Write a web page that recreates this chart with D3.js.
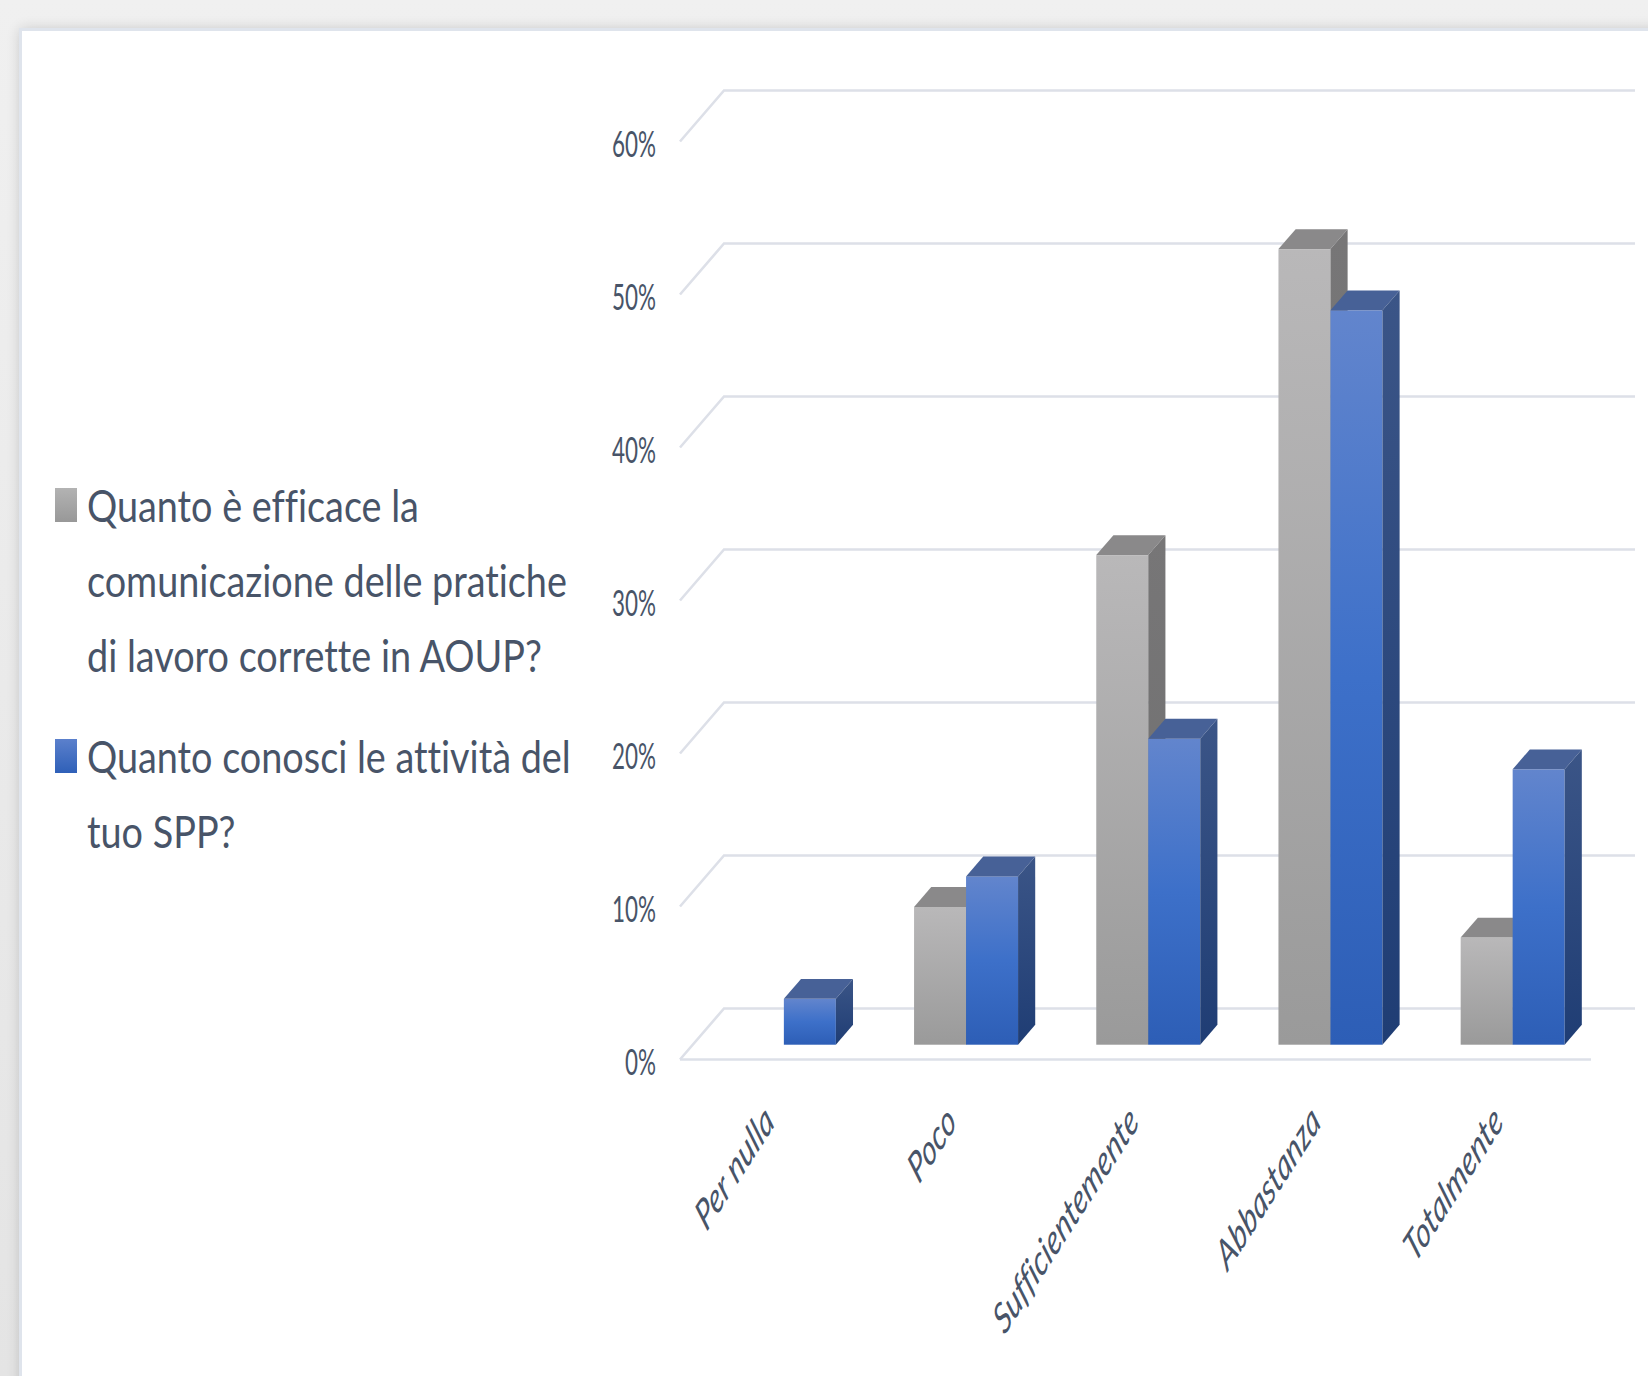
<!DOCTYPE html>
<html><head><meta charset="utf-8">
<script src="https://cdn.jsdelivr.net/npm/d3@7"></script>
<style>html,body{margin:0;padding:0;background:#ececec;overflow:hidden}svg{display:block}text{font-variant-ligatures:none;font-feature-settings:"liga" 0,"clig" 0}</style>
</head><body>
<svg id="chart" width="1648" height="1376"></svg>
<script>
// ---------- data ----------
const categories = ["Per nulla", "Poco", "Sufficientemente", "Abbastanza", "Totalmente"];
const seriesKeys = ["efficacia", "conoscenza"];
const seriesEfficacia = [0, 0.09, 0.32, 0.52, 0.07];   // Quanto è efficace la comunicazione ...
const seriesConoscenza = [0.03, 0.11, 0.20, 0.48, 0.18]; // Quanto conosci le attività del tuo SPP?
const legendEfficacia = ["Quanto è efficace la", "comunicazione delle pratiche", "di lavoro corrette in AOUP?"];
const legendConoscenza = ["Quanto conosci le attività del", "tuo SPP?"];
const tickValues = [0, 0.1, 0.2, 0.3, 0.4, 0.5, 0.6];

// ---------- layout ----------
const svg = d3.select("#chart");
const defs = svg.append("defs");
const textColor = "#485468";
const gridColor = "#dde0e8";
const floor = {x0: 680, x1: 1591, y0: 1059.5, dx: 44, dy: -51};
const depthFront = 0.29, depthBack = 0.68;

function grad(id, stops, x2, y2) {
  const g = defs.append("linearGradient").attr("id", id)
    .attr("x1", 0).attr("y1", 0).attr("x2", x2 || 0).attr("y2", y2 === undefined ? 1 : y2);
  stops.forEach(s => g.append("stop").attr("offset", s[0]).attr("stop-color", s[1]));
}
grad("gFront", [[0, "#b9b8b9"], [1, "#9a9a9a"]]);
grad("gSide", [[0, "#777677"], [1, "#6f6f6f"]]);
grad("bFront", [[0, "#6285cd"], [0.5, "#3d70c9"], [1, "#2d5eb6"]]);
grad("bSide", [[0, "#3b5587"], [1, "#1f3d74"]]);
grad("legG", [[0, "#b3b3b3"], [1, "#989898"]]);
grad("legB", [[0, "#5b80cc"], [1, "#2f60b8"]]);
grad("bgTop", [[0, "#f0f0f0"], [1, "#e4e4e4"]]);

const shadow = defs.append("filter").attr("id", "shadow").attr("x", "-5%").attr("y", "-5%").attr("width", "110%").attr("height", "110%");
shadow.append("feGaussianBlur").attr("in", "SourceAlpha").attr("stdDeviation", 7);
shadow.append("feComponentTransfer").append("feFuncA").attr("type", "linear").attr("slope", 0.18);
const fm = shadow.append("feMerge");
fm.append("feMergeNode");
fm.append("feMergeNode").attr("in", "SourceGraphic");

// background + card
svg.append("rect").attr("width", 1648).attr("height", 1376).attr("fill", "url(#bgTop)");
svg.append("rect").attr("x", 20).attr("y", 29).attr("width", 1700).attr("height", 1450)
  .attr("fill", "#ffffff").attr("filter", "url(#shadow)");
svg.append("rect").attr("x", 20.5).attr("y", 29.5).attr("width", 1700).attr("height", 1450)
  .attr("fill", "none").attr("stroke", "#dfe4ec").attr("stroke-width", 3);

// scales
const y = d3.scaleLinear().domain([0, 0.6]).range([0, 918]);
const x0 = d3.scaleBand().domain(categories).range([floor.x0, floor.x1]);
const x1 = d3.scaleBand().domain(seriesKeys).range([0, x0.bandwidth()]).paddingOuter(0.752).paddingInner(0);
const fmt = d3.format(".0%");

// gridlines (3D wall)
const grid = svg.append("g");
tickValues.forEach(t => {
  const fy = floor.y0 - y(t);
  grid.append("path")
    .attr("d", `M${floor.x0},${fy}L${floor.x0 + floor.dx},${fy + floor.dy}L${floor.x1 + floor.dx},${fy + floor.dy}`)
    .attr("fill", "none").attr("stroke", gridColor).attr("stroke-width", 2.6);
});
grid.append("path").attr("d", `M${floor.x0},${floor.y0}L${floor.x1},${floor.y0}`)
  .attr("fill", "none").attr("stroke", gridColor).attr("stroke-width", 2.6);

// helper to measure text
function measure(str, size, style) {
  const t = svg.append("text").attr("font-family", "Lato, 'Open Sans', sans-serif")
    .attr("font-size", size).attr("font-style", style || "normal").text(str);
  const w = t.node().getComputedTextLength();
  t.remove();
  return w;
}

// y tick labels
const tickSize = 36;
const tickSx = 44 / measure(fmt(0.6), tickSize);
svg.append("g").selectAll("text").data(tickValues).join("text")
  .attr("transform", d => `translate(656,${floor.y0 - y(d) + 15}) scale(${tickSx},1)`)
  .attr("text-anchor", "end")
  .attr("font-family", "Lato, 'Open Sans', sans-serif")
  .attr("font-size", tickSize).attr("fill", textColor)
  .text(d => fmt(d));

// bars
const ox = floor.dx * depthFront, oy = floor.dy * depthFront;
const bdx = floor.dx * (depthBack - depthFront), bdy = floor.dy * (depthBack - depthFront);
const baseY = floor.y0 + oy;
const series = [
  {key: "efficacia", values: seriesEfficacia, front: "url(#gFront)", top: "#8a898a", side: "url(#gSide)"},
  {key: "conoscenza", values: seriesConoscenza, front: "url(#bFront)", top: "#476197", side: "url(#bSide)"}
];
const bars = svg.append("g");
categories.forEach((c, i) => {
  series.forEach(s => {
    const v = s.values[i];
    if (!(v > 0)) return;
    const bx = x0(c) + ox + x1(s.key);
    const w = x1.bandwidth();
    const top = baseY - y(v);
    const g = bars.append("g");
    g.append("rect").attr("x", bx).attr("y", top).attr("width", w).attr("height", y(v)).attr("fill", s.front);
    g.append("path").attr("d", `M${bx},${top}L${bx + bdx},${top + bdy}L${bx + w + bdx},${top + bdy}L${bx + w},${top}Z`).attr("fill", s.top);
    g.append("path").attr("d", `M${bx + w},${top}L${bx + w + bdx},${top + bdy}L${bx + w + bdx},${baseY + bdy}L${bx + w},${baseY}Z`).attr("fill", s.side);
  });
});

// category labels (italic, rotated; picture squeezed horizontally)
const catSx = 0.64;
const catBase = 36;
const catSize = catBase * 300 / measure("Sufficientemente", catBase, "italic");
svg.append("g").selectAll("text").data(categories).join("text")
  .attr("transform", d => `translate(${x0(d) + ox + x0.bandwidth() / 2 - 8},1124) scale(${catSx},1) rotate(-45)`)
  .attr("text-anchor", "end")
  .attr("font-family", "Lato, 'Open Sans', sans-serif")
  .attr("font-style", "italic")
  .attr("font-size", catSize).attr("fill", textColor)
  .text(d => d);

// legend
const legSize = 44;
const legSx = 480 / measure(legendEfficacia[1], legSize);
const legend = svg.append("g");
const legendItems = [
  {lines: legendEfficacia, fill: "url(#legG)", y: 522},
  {lines: legendConoscenza, fill: "url(#legB)", y: 773}
];
legendItems.forEach(item => {
  legend.append("rect").attr("x", 55).attr("y", item.y - 34).attr("width", 22).attr("height", 34).attr("fill", item.fill);
  item.lines.forEach((ln, j) => {
    legend.append("text")
      .attr("transform", `translate(87,${item.y + j * 75}) scale(${legSx},1)`)
      .attr("font-family", "Lato, 'Open Sans', sans-serif")
      .attr("font-size", legSize).attr("fill", textColor)
      .text(ln);
  });
});
</script>
</body></html>
